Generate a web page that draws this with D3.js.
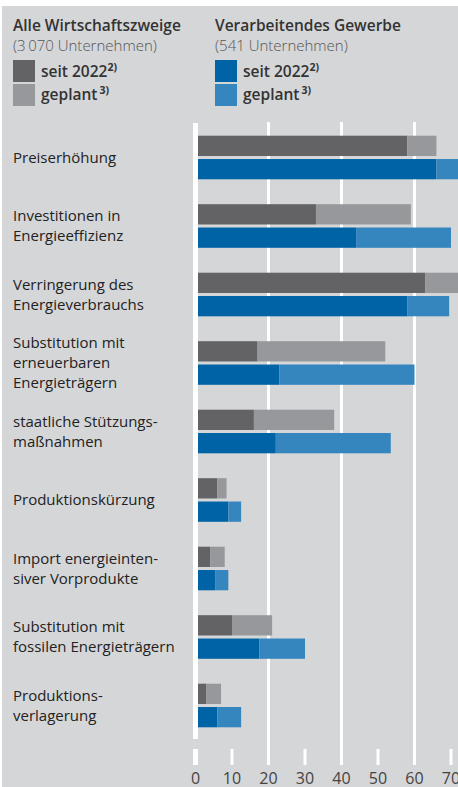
<!DOCTYPE html>
<html>
<head>
<meta charset="utf-8">
<script src="https://cdn.jsdelivr.net/npm/d3@7"></script>
<style>
  body { margin: 0; background: #fff; }
  svg { display: block; font-family: "Open Sans", "Noto Sans", sans-serif; }
</style>
</head>
<body>
<svg width="458" height="787"></svg>
<script>
// categories (label lines)
var categories = [
  ["Preiserhöhung"],
  ["Investitionen in", "Energieeffizienz"],
  ["Verringerung des", "Energieverbrauchs"],
  ["Substitution mit", "erneuerbaren", "Energieträgern"],
  ["staatliche Stützungs-", "maßnahmen"],
  ["Produktionskürzung"],
  ["Import energieinten-", "siver Vorprodukte"],
  ["Substitution mit", "fossilen Energieträgern"],
  ["Produktions-", "verlagerung"]
];
// Alle Wirtschaftszweige
var alleSeit    = [58, 33, 63, 17, 16, 6, 4, 10, 3];
var alleGeplant = [8, 26, 9, 35, 22, 2.5, 4, 11, 4];
// Verarbeitendes Gewerbe
var vgSeit    = [66, 44, 58, 23, 22, 9, 5.5, 17.5, 6];
var vgGeplant = [7, 26, 11.5, 37, 31.5, 3.5, 3.5, 12.5, 6.5];
var ticks = [0, 10, 20, 30, 40, 50, 60, 70];

var svg = d3.select("svg");

// panel background
svg.append("rect").attr("x", 2).attr("y", 6).attr("width", 456).attr("height", 781).attr("fill", "#d5d6d8");

var x = d3.scaleLinear().domain([0, 70]).range([195.5, 451]);
var ids = d3.range(categories.length);
var y = d3.scaleBand().domain(ids).range([124, 124 + 9 * 68.5]);
var yInner = d3.scaleBand().domain(["alle", "vg"]).range([11.7, 55.3]).paddingInner(0.13);

// grid lines
svg.selectAll("line.grid").data(ticks).enter().append("line")
  .attr("class", "grid")
  .attr("x1", function (d) { return x(d); })
  .attr("x2", function (d) { return x(d); })
  .attr("y1", function (d) { return d === 0 ? 123 : (d % 20 === 0 ? 122 : 749); })
  .attr("y2", function (d) { return d === 0 ? 739 : 765; })
  .attr("stroke", "#fff")
  .attr("stroke-width", function (d) { return d === 0 ? 5 : 3; });
// zero tick below
svg.append("line").attr("x1", x(0)).attr("x2", x(0)).attr("y1", 749).attr("y2", 765)
  .attr("stroke", "#fff").attr("stroke-width", 5);

var series = [
  {key: "alle", seit: alleSeit, geplant: alleGeplant, c1: "#636366", c2: "#97989c"},
  {key: "vg", seit: vgSeit, geplant: vgGeplant, c1: "#0063a6", c2: "#3585bf"}
];

series.forEach(function (s) {
  var g = svg.append("g");
  g.selectAll("rect.seit").data(ids).enter().append("rect")
    .attr("x", x(0) + 2.5)
    .attr("y", function (i) { return y(i) + yInner(s.key); })
    .attr("width", function (i) { return x(s.seit[i]) - x(0) - 2.5; })
    .attr("height", yInner.bandwidth())
    .attr("fill", s.c1);
  g.selectAll("rect.geplant").data(ids).enter().append("rect")
    .attr("x", function (i) { return x(s.seit[i]); })
    .attr("y", function (i) { return y(i) + yInner(s.key); })
    .attr("width", function (i) { return x(s.seit[i] + s.geplant[i]) - x(s.seit[i]); })
    .attr("height", yInner.bandwidth())
    .attr("fill", s.c2);
});

// category labels
var lineH = 20;
var lab = svg.selectAll("text.cat").data(categories).enter().append("text")
  .attr("class", "cat")
  .attr("x", 13)
  .attr("font-size", 15)
  .attr("fill", "#222");
lab.each(function (lines, i) {
  var cy = y(i) + 33.5;
  var top = cy - (lines.length - 1) * lineH / 2 + 5;
  d3.select(this).selectAll("tspan").data(lines).enter().append("tspan")
    .attr("x", 13)
    .attr("y", function (d, j) { return top + j * lineH; })
    .text(function (d) { return d; });
});

// tick labels
svg.selectAll("text.tick").data(ticks).enter().append("text")
  .attr("x", function (d) { return x(d); })
  .attr("y", 784)
  .attr("text-anchor", "middle")
  .attr("font-size", 16)
  .attr("fill", "#444")
  .text(function (d) { return d; });

// legend
var legends = [
  {x: 13, title: "Alle Wirtschaftszweige", sub: "(3\u2009070 Unternehmen)", c1: "#636366", c2: "#97989c"},
  {x: 215, title: "Verarbeitendes Gewerbe", sub: "(541 Unternehmen)", c1: "#0063a6", c2: "#3585bf"}
];
legends.forEach(function (l) {
  var g = svg.append("g");
  g.append("text").attr("x", l.x).attr("y", 31).attr("font-size", 15.5).attr("font-weight", 600)
    .attr("fill", "#333").text(l.title);
  g.append("text").attr("x", l.x).attr("y", 51).attr("font-size", 15).attr("font-weight", 300)
    .attr("fill", "#555").text(l.sub);
  g.append("rect").attr("x", l.x).attr("y", 60).attr("width", 22).attr("height", 22).attr("fill", l.c1);
  g.append("rect").attr("x", l.x).attr("y", 84).attr("width", 22).attr("height", 22).attr("fill", l.c2);
  var t1 = g.append("text").attr("x", l.x + 28).attr("y", 77).attr("font-size", 15.5).attr("font-weight", 600).attr("fill", "#333");
  t1.append("tspan").text("seit 2022");
  t1.append("tspan").attr("dy", -6).attr("font-size", 10.5).attr("font-weight", 700).text("2)");
  var t2 = g.append("text").attr("x", l.x + 28).attr("y", 100).attr("font-size", 15.5).attr("font-weight", 600).attr("fill", "#333");
  t2.append("tspan").text("geplant");
  t2.append("tspan").attr("dx", 2).attr("dy", -6).attr("font-size", 10.5).attr("font-weight", 700).text("3)");
});
</script>
</body>
</html>
